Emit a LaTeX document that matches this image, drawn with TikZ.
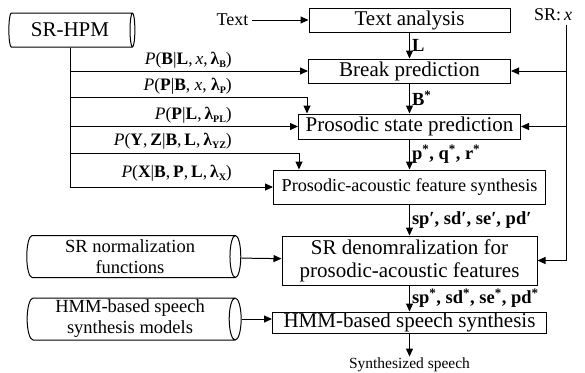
\documentclass[tikz,border=0pt]{standalone}
\usepackage{fontspec}
\setmainfont{Liberation Serif}
\usepackage{tikz}
\usetikzlibrary{positioning,shapes.geometric,arrows.meta}

\newcommand{\lsub}[1]{\raisebox{-3pt}{\fontsize{10}{10}\selectfont\textbf{#1}}}

\tikzset{
  box/.style={draw, line width=1pt, inner sep=1pt, align=center, font=\fontsize{21}{23}\selectfont},
  dbase/.style={cylinder, draw, line width=1pt, aspect=0.3, inner sep=1pt, align=center},
  arr/.style={line width=1pt, -{Triangle[length=8pt,width=7pt]}},
  plabel/.style={anchor=south east, inner sep=1pt, font=\fontsize{17.5}{19}\selectfont},
  vlabel/.style={right, inner sep=2pt, font=\fontsize{18.5}{20}\selectfont\bfseries},
}

\begin{document}
\begin{tikzpicture}[x=1pt, y=-1pt, node distance=26pt]
    \useasboundingbox (0,0) rectangle (585,372);
    % Define nodes
    \node[box, minimum width=201pt, minimum height=24pt] (ta) at (409.5,20) {Text analysis};
    \node[box, minimum width=202pt, minimum height=24pt, below=26pt of ta] (bp) {Break prediction};
    \node[box, minimum width=222pt, minimum height=25pt, below=30pt of bp] (ps) {Prosodic state prediction};
    \node[box, minimum width=272pt, minimum height=34pt, below=30pt of ps, font=\fontsize{18.2}{20}\selectfont] (pa) {Prosodic-acoustic feature synthesis};
    \node[box, minimum width=255pt, minimum height=49pt, below=31pt of pa] (srd) {SR denomralization for\\prosodic-acoustic features};
    \node[box, minimum width=274pt, minimum height=20pt, below=26pt of srd] (hmm) {HMM-based speech synthesis};
    \node[below=23pt of hmm, inner sep=1pt, font=\fontsize{15.5}{17}\selectfont] (out) {Synthesized speech};
    \node[anchor=east, font=\fontsize{18}{20}\selectfont] (txt) at (252,20) {Text};
    \node[font=\fontsize{18}{20}\selectfont] (sr) at (553,15) {SR:\,\textit{x}};
    \node[dbase, minimum height=126pt, minimum width=34pt, font=\fontsize{21}{23}\selectfont] (hpm) at (70,30) {SR-HPM};
    \node[dbase, minimum height=214pt, minimum width=42pt, font=\fontsize{18.5}{21}\selectfont] (snf) at (130,256.5) {SR normalization\\functions};
    \node[dbase, minimum height=214pt, minimum width=42pt, font=\fontsize{18.5}{21}\selectfont] (hsm) at (130,319) {HMM-based speech\\synthesis models};
    \node[plabel] (lb1) at (233,69) {\textit{P}(\textbf{B}|\textbf{L},\,\textit{x},\,\textbf{λ}\lsub{B})};
    \node[plabel] (lb2) at (233,95) {\textit{P}(\textbf{P}|\textbf{B}, \textit{x}, \textbf{λ}\lsub{P})};
    \node[plabel] (lb3) at (233,124) {\textit{P}(\textbf{P}|\textbf{L},\,\textbf{λ}\lsub{PL})};
    \node[plabel] (lb4) at (233,150) {\textit{P}(\textbf{Y},\,\textbf{Z}|\textbf{B},\,\textbf{L},\,\textbf{λ}\lsub{YZ})};
    \node[plabel] (lb5) at (233,182) {\textit{P}(\textbf{X}|\textbf{B},\,\textbf{P},\,\textbf{L},\,\textbf{λ}\lsub{X})};
    \coordinate (srx) at ([xshift=13pt]sr.south);
    % Connect nodes
    \draw[arr] (txt) -- (ta);
    \draw[arr] (ta) -- node[vlabel] {L} (bp);
    \draw[arr] (bp) -- node[vlabel] {B\textsuperscript{*}} (ps);
    \draw[arr] (ps) -- node[vlabel] {p\textsuperscript{*}, q\textsuperscript{*}, r\textsuperscript{*}} (pa);
    \draw[arr] (pa) -- node[vlabel] {sp′, sd′, se′, pd′} (srd);
    \draw[arr] (srd) -- node[vlabel] {sp\textsuperscript{*}, sd\textsuperscript{*}, se\textsuperscript{*}, pd\textsuperscript{*}} (hmm);
    \draw[arr] (hmm) -- (out);
    \draw[arr] (hpm) |- (bp);
    \draw[arr] (hpm) |- ([xshift=9pt,yshift=16pt]ps.north west) -- ([xshift=9pt]ps.north west);
    \draw[arr] (hpm) |- (ps);
    \draw[arr] (hpm) |- ([xshift=26pt,yshift=16pt]pa.north west) -- ([xshift=26pt]pa.north west);
    \draw[arr] (hpm) |- (pa);
    \draw[arr] (srx) |- (srd);
    \draw[arr] (srx |- bp) -- (bp);
    \draw[arr] (srx |- ps) -- (ps);
    \draw[arr] (snf) -- (srd);
    \draw[arr] (hsm.east) -- (hsm.east -| hmm.west);
\end{tikzpicture}
\end{document}
